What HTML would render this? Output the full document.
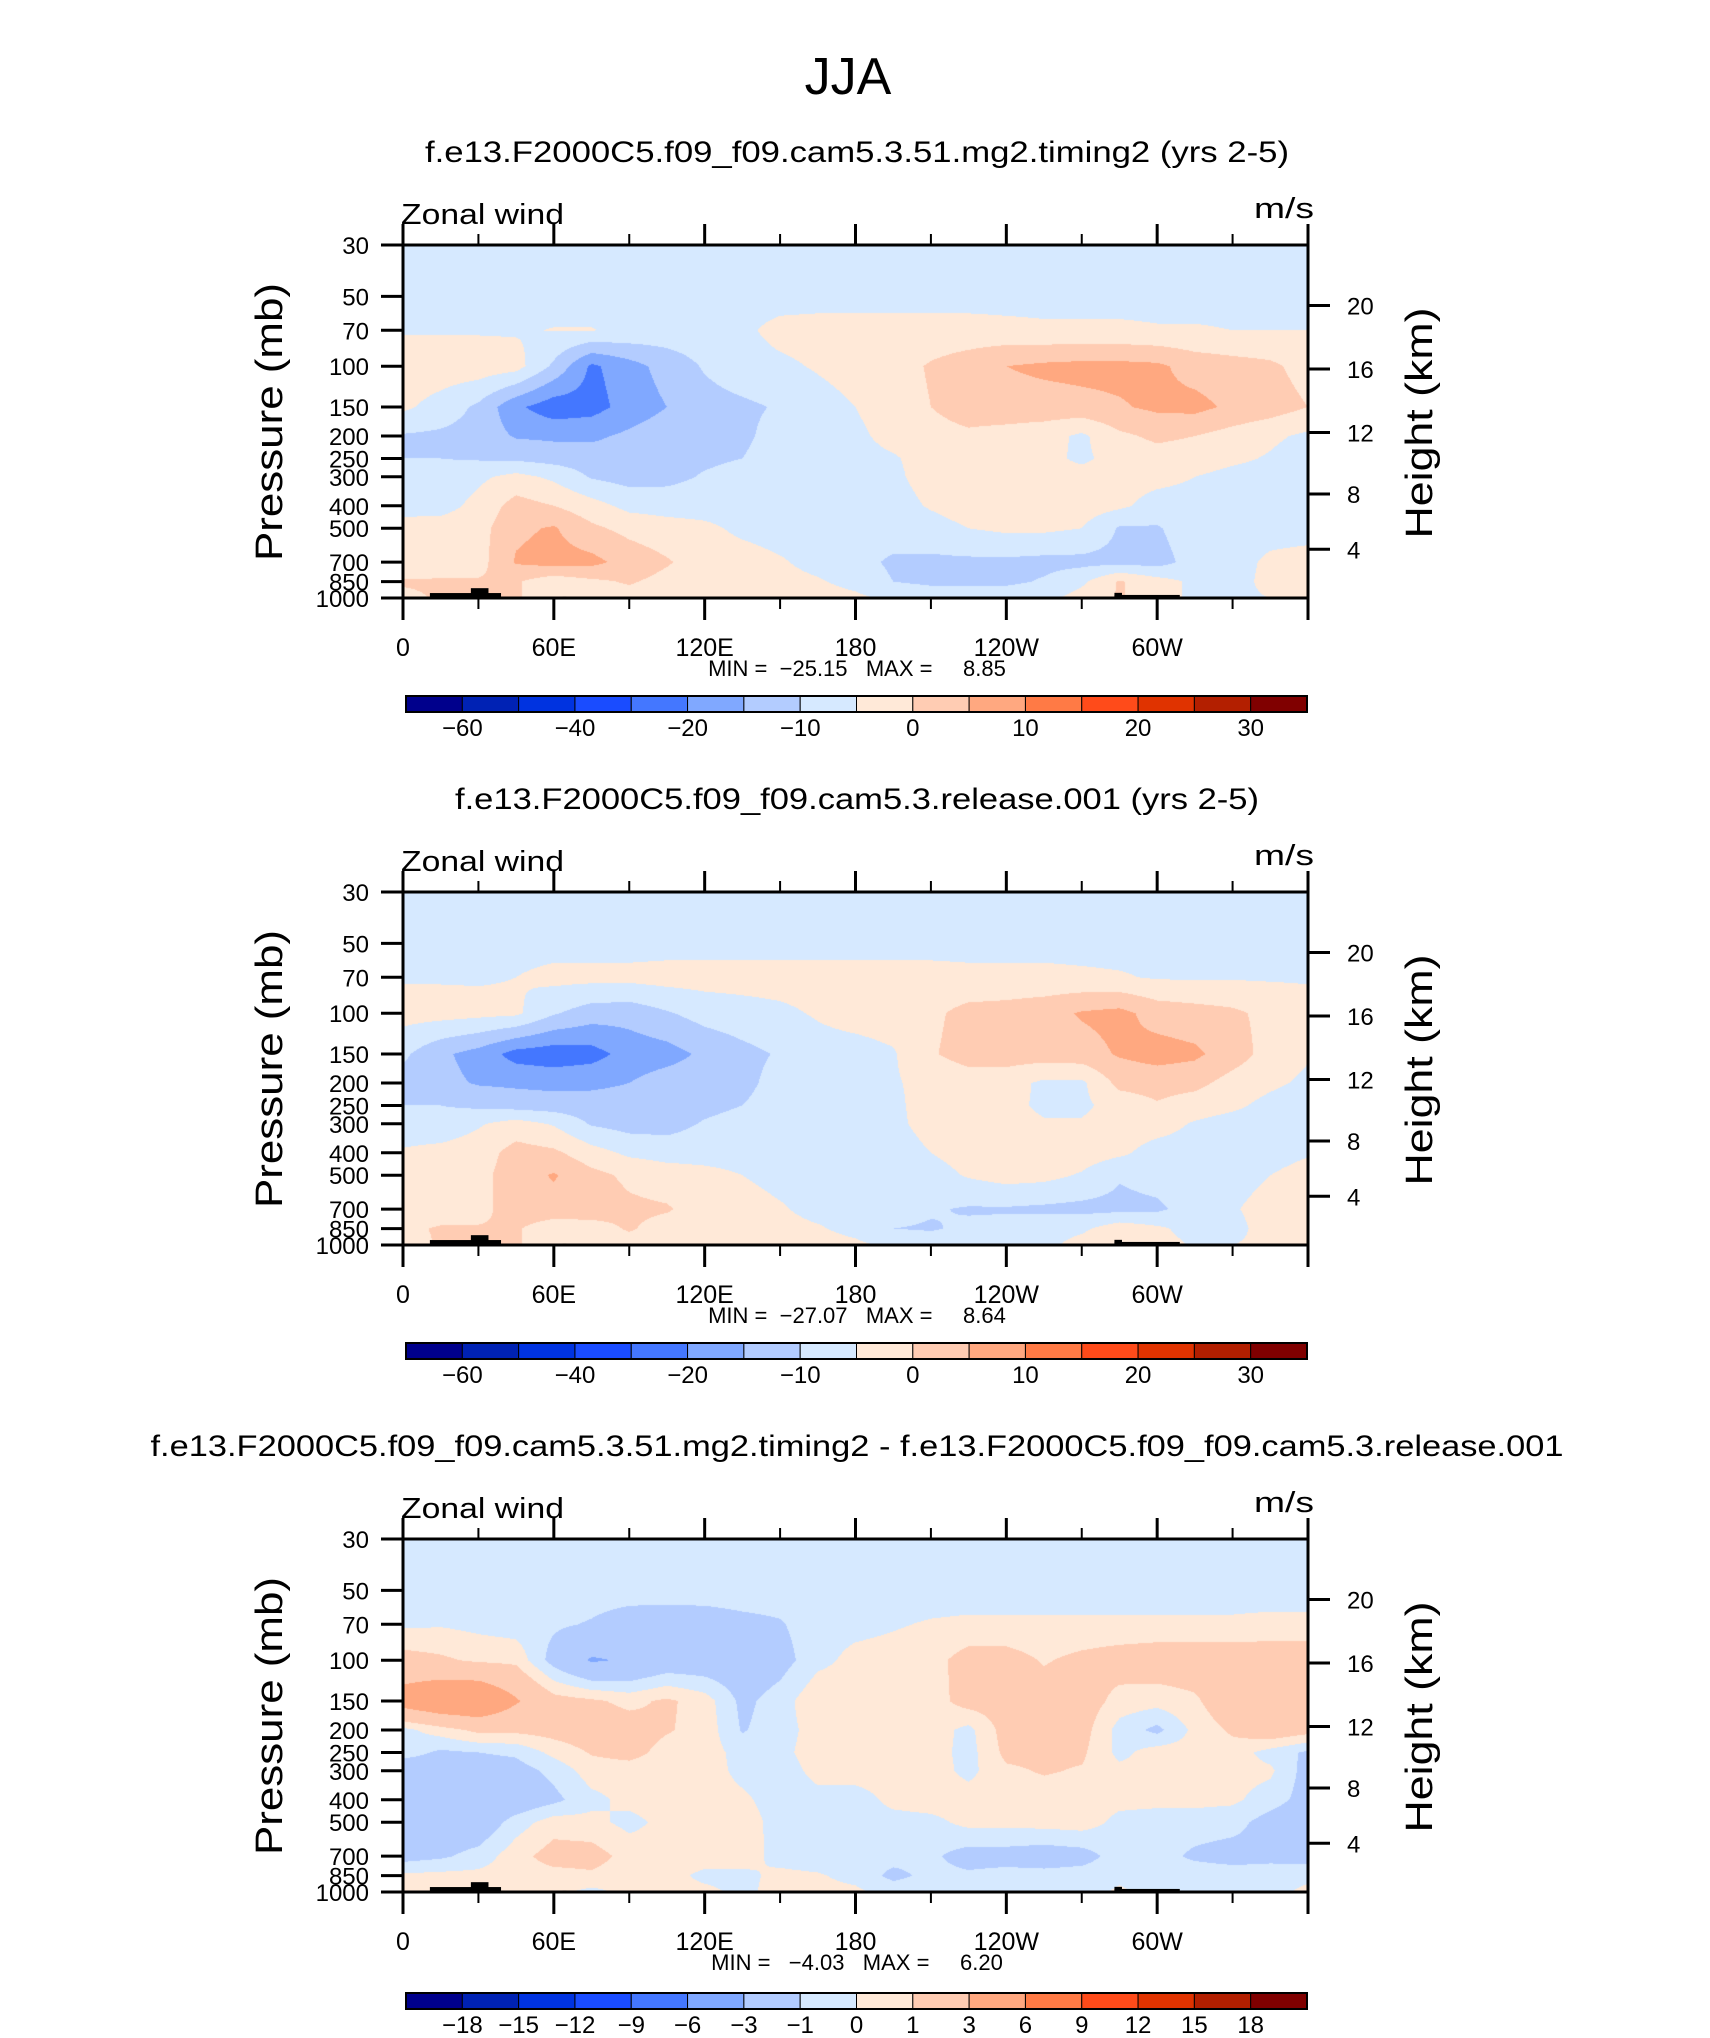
<!DOCTYPE html>
<html><head><meta charset="utf-8">
<style>
html,body{margin:0;padding:0;background:#fff;}
#wrap{position:relative;width:1710px;height:2038px;overflow:hidden;background:#fff;}
canvas{position:absolute;}
svg{position:absolute;left:0;top:0;}
text{font-family:"Liberation Sans",sans-serif;fill:#000;}
.pre{white-space:pre;}
</style></head>
<body>
<div id="wrap">
<svg id="svg" width="1710" height="2038" viewBox="0 0 1710 2038"></svg>
</div>
<script>
// ---- data ----
const PLEV = [30,50,70,100,150,200,250,300,400,500,700,850,1000];
const LONS = [0,15,30,45,60,75,90,105,120,135,150,165,180,195,210,225,240,255,270,285,300,315,330,345,360];
const LEVELS_A = [-60,-50,-40,-30,-20,-15,-10,-5,0,5,10,15,20,25,30];
const LEVELS_D = [-18,-15,-12,-9,-6,-3,-1,0,1,3,6,9,12,15,18];
const LABELS_A = ["","-60","","-40","","-20","","-10","","0","","10","","20","","30",""];
const LABELS_D = ["","-18","-15","-12","-9","-6","-3","-1","0","1","3","6","9","12","15","18",""];
const COLORS = ["#00008c","#0022b4","#0033e0","#1a4cff","#4477ff","#80a8ff","#b3ccff","#d6e9ff","#ffe9d8","#ffccb3","#ffa880","#ff7a45","#ff4b1a","#e03300","#b31f00","#800000"];
const XTICK_LON = [0,60,120,180,240,300,360];
const XTICK_LAB = ["0","60E","120E","180","120W","60W",""];
const XMINOR_LON = [30,90,150,210,270,330];
const HEIGHT_KM = [4,8,12,16,20];
const TERRAIN = [[10.7,39,952],[27,34,907],[63.5,65,985],[283,309,970],[283,286,950]];
const TITLES = ["f.e13.F2000C5.f09_f09.cam5.3.51.mg2.timing2 (yrs 2-5)","f.e13.F2000C5.f09_f09.cam5.3.release.001 (yrs 2-5)","f.e13.F2000C5.f09_f09.cam5.3.51.mg2.timing2 - f.e13.F2000C5.f09_f09.cam5.3.release.001"];
const TITLE_W = [864,804,1413];
const MINV = ["\u221225.15","\u221227.07"," \u22124.03"];
const MAXV = ["8.85","8.64","6.20"];

const U1 = [
 Array(25).fill(-7), Array(25).fill(-7),
 [-5.5,-5.5,-5.5,-5.5,-4.8,-4.8,-6,-7,-7,-6,-3.5,-3,-3,-3,-3,-3,-3.5,-4,-4,-4,-4.5,-4.5,-5,-5,-5],
 [-2,-2,-2,-3,-11,-21,-17,-13,-9.5,-7,-6,-4.5,-3,-2,0.5,2.5,5,6,6.5,6.5,6,3,2,1,-2],
 [-4,-7,-11,-19,-23,-22,-18,-15,-12,-11,-9.5,-7,-5,-2.5,0,2.5,3,3,3.5,4.5,6,6.5,4,2.5,0],
 [-10.5,-11,-12,-15.5,-16,-16,-14,-12,-12,-11,-8,-7,-6,-3.5,-2,-1,-2,-3,-6,-1,1,0,-2,-4,-6],
 [-10,-10,-10.5,-11,-12,-12.5,-12.5,-12,-11,-10,-7.5,-7,-6.5,-5.5,-3,-2.5,-2.5,-3.5,-6,-3,-2,-2.5,-4,-5.5,-8],
 [-9.5,-8,-6,-3.5,-6,-10.5,-12,-11.5,-9.5,-8,-7.5,-7,-7,-6,-3,-2.5,-2.5,-3,-3,-3,-3.5,-5,-6.5,-7,-7.5],
 [-7,-7,-3.5,2,0,-3,-6.5,-7,-7,-7,-7,-7,-7,-7,-4.5,-2.5,-2.5,-2.5,-2.5,-4,-7,-7,-7,-7,-7],
 [-3,-2.5,-2,4,5.5,1,-1.5,-3,-4,-6,-7,-7,-7,-7,-7,-5,-4,-4,-5,-10.5,-10.5,-7,-7,-7,-7],
 [-3,-2.5,-2,5.5,7,6.5,3,0.5,-2.5,-3,-4.5,-6.5,-8,-11,-11,-11,-11,-11.5,-11.5,-11.5,-12,-8,-7,-4,-3],
 [0.5,0.5,0.5,0.5,-3,-1,0.5,-1.5,-3,-3.5,-3.5,-4.5,-6.5,-10,-11,-11,-11,-9.5,-6,0.5,-3,-6,-7,-3.5,-3],
 [-1,0.5,0.5,0.5,-3,-2,-2,-3,-3,-3,-3,-3,-4,-6,-7,-7,-7,-6.5,-3,0.5,-3,-6,-6,-5,-4]
];
const U2 = [
 Array(25).fill(-7), Array(25).fill(-7),
 [-5.5,-5.5,-5.5,-5,-3.5,-3.5,-3.5,-3,-3,-3,-3,-3,-3,-3,-3,-3.5,-3.5,-3.5,-4,-4.5,-5.5,-5.5,-5.5,-5.5,-5.5],
 [-3,-3,-3.5,-4,-9.5,-12.5,-13,-10.5,-8,-7,-6,-4.5,-3,-2.5,-1,1.5,2,3,5.5,6.5,3,2,1,-1.5,-3],
 [-9,-14,-17,-22,-23,-22,-18,-17,-14,-11.5,-9.5,-7,-7,-5.5,-0.5,2,2.5,2.5,3,5.5,7,6,2.5,-2,-4.5],
 [-12,-13.5,-15.5,-16,-16.5,-16,-15,-12.5,-12,-11.5,-8,-7,-7,-5.5,-3.5,-2.5,-3,-6,-6,1.5,2,1.5,-2,-4,-6],
 [-10,-10,-11,-12,-12.5,-13,-13,-12.5,-11.5,-10,-7.5,-7,-7,-6,-3,-2.5,-3.5,-6,-6,-3,-0.5,-2.5,-4,-6.5,-8],
 [-7.5,-8,-5.5,-3,-5.5,-10.5,-12,-12,-9.5,-8,-7,-7,-7,-6,-3.5,-2.5,-3,-4.5,-4.5,-2.5,-3,-5.5,-7,-7,-7],
 [-4.5,-3.5,-2.5,2,1,-3,-6,-7,-7,-7,-7,-7,-7,-7,-5,-3,-2.5,-2.5,-2.5,-4,-7,-7,-7,-7,-5.5],
 [-3,-2.5,-1.5,2.5,5.5,1.5,-1,-2.5,-3.5,-5,-6.5,-7,-7,-7,-7,-4.5,-3,-3.5,-5.5,-9.5,-8,-7,-7,-5,-3],
 [-3,-2.5,-2,3,3,2.5,1,0.5,-2.5,-3,-4.5,-6.5,-7,-8,-9.5,-10.5,-10.5,-11,-11.5,-11.5,-11,-7.5,-5.5,-3,-2.5],
 [-1,0.5,0.5,0.5,-3,-2,0.5,-2,-3,-3,-3.5,-4.5,-6.5,-10,-10.5,-9,-8.5,-7,-6,-2,-4,-7,-6.5,-3,-3],
 [-2,0.5,0.5,0.5,-3,-2,-2,-3,-3,-3,-3,-3,-4,-6,-7,-7,-7,-6.5,-3,0.5,-3,-5.5,-5,-4,-4]
];
const U3 = [
 Array(25).fill(-0.5), Array(25).fill(-0.5),
 [-0.2,-0.1,-0.3,-0.5,-0.8,-1.1,-1.6,-1.7,-1.6,-1.3,-1.1,-0.4,-0.3,-0.1,0.1,0.2,0.2,0.2,0.2,0.2,0.2,0.2,0.2,0.3,0.3],
 [1.5,1.2,0.8,0.7,-1.5,-3.2,-2.8,-2,-2,-2,-1.5,-0.3,0.3,0.4,0.6,1.5,1.5,0.9,1.3,1.6,1.8,1.8,1.8,1.8,1.8],
 [4,5,5.2,3.2,1.5,1.2,0.7,1.2,0.5,-1.3,-0.5,0.8,0.5,0.5,0.5,1.5,1.6,1.6,1.7,0.6,0.4,0.8,2,2,2],
 [-0.3,0.5,1.3,1.3,1.5,1.8,1.6,1.1,0.6,-1.1,-0.4,0.4,0.5,0.5,0.5,-0.3,1.5,1.5,1.5,-0.4,-1.3,0.3,1.2,2,1.5],
 [-0.5,-1.2,-1,-0.8,0.3,1.1,1.4,0.6,0.5,-0.4,-0.3,0.5,0.5,0.8,0.5,-0.4,1.3,1.3,1.2,-0.3,0.5,0.4,0.5,-0.4,-1.2],
 [-2,-1.8,-1.7,-1.5,-0.7,0.5,0.5,0.5,0.5,-0.3,-0.5,0.3,0.5,0.5,0.5,-0.3,0.8,1.1,0.9,0.3,0.2,0.5,0.4,0.2,-1.5],
 [-2,-2,-2,-2,-1.3,-0.3,0.3,0.5,0.5,0.2,-0.5,-0.3,-0.5,0.3,0.5,0.5,0.5,0.5,0.5,0.3,0.3,0.3,0.2,-0.5,-1.5],
 [-2,-2,-2,-0.5,0.5,0.3,-0.3,0.3,0.5,0.5,-0.4,-0.5,-0.5,-0.4,-0.3,0.3,0.3,0.4,0.5,-0.3,-0.5,-0.5,-0.6,-1.5,-2],
 [-1.5,-1.2,-0.6,0.6,1.5,1.5,0.6,0.4,0.4,0.4,-0.3,-0.5,-0.5,-0.6,-0.8,-1.5,-1.5,-1.7,-1.5,-0.5,-0.6,-1.2,-1.5,-1.3,-1.5],
 [0.2,0.3,0.3,0.5,0.6,0.8,0.4,0.3,-0.2,-0.2,0.2,0.1,-0.3,-1.3,-0.7,-0.8,-0.6,-0.6,-0.5,-0.3,-0.5,-0.4,-0.4,-0.5,-0.3],
 [0.3,0.3,0.3,0.3,0.3,-0.3,0.3,0.3,0.2,-0.2,0.3,0.3,0.2,-0.4,-0.4,-0.4,-0.4,-0.4,-0.5,0.2,-0.4,-0.4,-0.4,-0.4,0.3]
];

// ---- geometry ----
const PX0 = 403, PX1 = 1308, PW = PX1 - PX0, PH = 353;
const TOPS = [245, 892, 1539];
const LNR = Math.log(1000/30);
function xOfLon(lon){ return PX0 + PW*lon/360; }
function yOfP(p, top){ return top + PH*Math.log(p/30)/LNR; }
function pOfZ(z){ const m = z*1000; return m <= 11000 ? 1013.25*Math.pow(1-2.25577e-5*m,5.25588) : 226.32*Math.exp(-(m-11000)/6341.6); }

const NS = "http://www.w3.org/2000/svg";
const svg = document.getElementById('svg');
function el(tag, attrs, parent){ const e = document.createElementNS(NS, tag); for (const k in attrs) e.setAttribute(k, attrs[k]); (parent||svg).appendChild(e); return e; }
function txt(s, attrs, name){ const t = el('text', attrs); t.textContent = s;
  
  
  return t; }

txt("JJA", {x:848, y:94, 'font-size':52, 'text-anchor':'middle'}, 'season-title');

function render(idx, U, LEVELS, LABELS){
  const top = TOPS[idx];
  const off = idx*647;
  const cv = document.createElement('canvas');
  cv.width = PW; cv.height = PH;
  cv.style.left = PX0+'px'; cv.style.top = top+'px';
  
  
  document.getElementById('wrap').insertBefore(cv, svg);
  const ctx = cv.getContext('2d');
  const img = ctx.createImageData(PW, PH);
  const rgb = COLORS.map(c => [parseInt(c.substr(1,2),16),parseInt(c.substr(3,2),16),parseInt(c.substr(5,2),16)]);
  const lnP = PLEV.map(p => Math.log(p));
  for (let j=0;j<PH;j++){
    const lp = Math.log(30) + (j+0.5)/PH*LNR;
    let k = 0; while (k < PLEV.length-2 && lp > lnP[k+1]) k++;
    const t = Math.min(1, Math.max(0, (lp-lnP[k])/(lnP[k+1]-lnP[k])));
    for (let i=0;i<PW;i++){
      const lon = (i+0.5)/PW*360;
      let c = Math.floor(lon/15); if (c > LONS.length-2) c = LONS.length-2;
      const u = (lon - LONS[c])/15;
      const v = (1-t)*((1-u)*U[k][c] + u*U[k][c+1]) + t*((1-u)*U[k+1][c] + u*U[k+1][c+1]);
      let ci = 0; while (ci < LEVELS.length && v >= LEVELS[ci]) ci++;
      const o = (j*PW+i)*4; const col = rgb[ci];
      img.data[o]=col[0]; img.data[o+1]=col[1]; img.data[o+2]=col[2]; img.data[o+3]=255;
    }
  }
  ctx.putImageData(img,0,0);

  TERRAIN.forEach(tr => {
    const r = el('rect', {x:xOfLon(tr[0]), y:yOfP(tr[2],top), width:xOfLon(tr[1])-xOfLon(tr[0]), height:top+PH-yOfP(tr[2],top), fill:'#000'});
    
    
  });

  const fr = el('rect', {x:PX0, y:top, width:PW, height:PH, fill:'none', stroke:'#000', 'stroke-width':3});
  
  

  txt(TITLES[idx], {x:857, y:162+off, 'font-size':30, 'text-anchor':'middle', textLength:TITLE_W[idx], lengthAdjust:'spacingAndGlyphs'}, 'panel-title-'+(idx+1));
  txt("Zonal wind", {x:401, y:224+off, 'font-size':29, textLength:163, lengthAdjust:'spacingAndGlyphs'}, 'variable-label');
  txt("m/s", {x:1314, y:218+off, 'font-size':29, 'text-anchor':'end', textLength:60, lengthAdjust:'spacingAndGlyphs'}, 'units-label');

  PLEV.forEach(p => {
    const y = yOfP(p, top);
    const tk = el('line', {x1:PX0-22, x2:PX0, y1:y, y2:y, stroke:'#000', 'stroke-width':3});
    
    
    txt(String(p), {x:369, y:y+9, 'font-size':24, 'text-anchor':'end'}, 'y-tick-label');
  });
  txt("Pressure (mb)", {x:0, y:0, 'font-size':38, 'text-anchor':'middle', textLength:278, lengthAdjust:'spacingAndGlyphs', transform:'translate(282,'+(422+off)+') rotate(-90)'}, 'y-axis-title');

  HEIGHT_KM.forEach(z => {
    const y = yOfP(pOfZ(z), top);
    const tk = el('line', {x1:PX1, x2:PX1+22, y1:y, y2:y, stroke:'#000', 'stroke-width':3});
    
    
    txt(String(z), {x:1347, y:y+9, 'font-size':24}, 'height-tick-label');
  });
  txt("Height (km)", {x:0, y:0, 'font-size':38, 'text-anchor':'middle', textLength:231, lengthAdjust:'spacingAndGlyphs', transform:'translate(1432,'+(423+off)+') rotate(-90)'}, 'right-axis-title');

  XTICK_LON.forEach((lon,i) => {
    const x = xOfLon(lon);
    const b = el('line', {x1:x, x2:x, y1:top+PH, y2:top+PH+22, stroke:'#000', 'stroke-width':3});
    
    
    const tt = el('line', {x1:x, x2:x, y1:top, y2:top-21, stroke:'#000', 'stroke-width':3});
    
    
    if (XTICK_LAB[i]) txt(XTICK_LAB[i], {x:x, y:top+PH+58, 'font-size':25, 'text-anchor':'middle'}, 'x-tick-label');
  });
  XMINOR_LON.forEach(lon => {
    const x = xOfLon(lon);
    const b = el('line', {x1:x, x2:x, y1:top+PH, y2:top+PH+11, stroke:'#000', 'stroke-width':2});
    
    
    const tt = el('line', {x1:x, x2:x, y1:top, y2:top-11, stroke:'#000', 'stroke-width':2});
    
    
  });

  txt("MIN =  " + MINV[idx] + "   MAX =     " + MAXV[idx], {x:857, y:top+PH+78, 'font-size':22, 'text-anchor':'middle', 'class':'pre'}, 'min-max-label');

  const cbx0 = 406, cbx1 = 1307, cby = 696 + off + (idx===2 ? 3 : 0), cbh = 16;
  const bw = (cbx1-cbx0)/COLORS.length;
  COLORS.forEach((c,i) => {
    const r = el('rect', {x:cbx0+i*bw, y:cby, width:bw, height:cbh, fill:c, stroke:'#000', 'stroke-width':1});
    
    
  });
  const cf = el('rect', {x:cbx0, y:cby, width:cbx1-cbx0, height:cbh, fill:'none', stroke:'#000', 'stroke-width':2});
  
  
  LABELS.forEach((s,i) => {
    if (!s) return;
    txt(s.replace('-','\u2212'), {x:cbx0+i*bw, y:cby+40, 'font-size':24, 'text-anchor':'middle'}, 'colorbar-label');
  });
}
render(0, U1, LEVELS_A, LABELS_A);
render(1, U2, LEVELS_A, LABELS_A);
render(2, U3, LEVELS_D, LABELS_D);
</script>
</body></html>
